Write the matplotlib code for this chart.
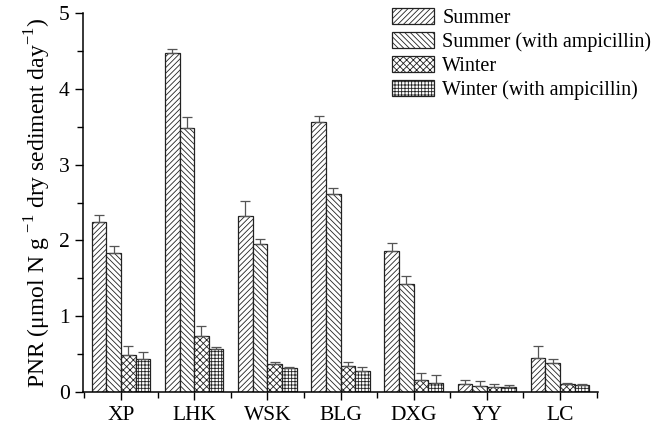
import numpy as np
import matplotlib
matplotlib.use("Agg")
from matplotlib import pyplot as plt
from matplotlib.ticker import MultipleLocator

plt.rcParams['font.family'] = ['Liberation Serif', 'DejaVu Serif']
plt.rcParams['hatch.linewidth'] = 0.6
plt.rcParams['mathtext.fontset'] = 'custom'
plt.rcParams['mathtext.rm'] = 'Liberation Serif'

sites = ["XP", "LHK", "WSK", "BLG", "DXG", "YY", "LC"]
series = ["Summer", "Summer (with ampicillin)", "Winter", "Winter (with ampicillin)"]

summer = [2.24, 4.48, 2.32, 3.56, 1.86, 0.10, 0.45]
summer_amp = [1.83, 3.48, 1.95, 2.61, 1.43, 0.08, 0.38]
winter = [0.49, 0.74, 0.37, 0.34, 0.15, 0.07, 0.11]
winter_amp = [0.43, 0.56, 0.31, 0.27, 0.12, 0.06, 0.09]

summer_err = [0.10, 0.05, 0.20, 0.08, 0.10, 0.05, 0.16]
summer_amp_err = [0.09, 0.15, 0.07, 0.08, 0.10, 0.06, 0.05]
winter_err = [0.12, 0.13, 0.03, 0.06, 0.10, 0.03, 0.01]
winter_amp_err = [0.09, 0.03, 0.02, 0.06, 0.10, 0.03, 0.01]

values = [summer, summer_amp, winter, winter_amp]
errors = [summer_err, summer_amp_err, winter_err, winter_amp_err]
hatches = ["//////", "\\\\\\\\\\\\", "xxxxx", "+++++"]

fig = plt.figure(figsize=(6.69, 4.25), dpi=100)
ax = fig.add_axes([0.124, 0.078, 0.77, 0.891])

x = np.arange(len(sites))
w = 0.2
for i in range(4):
    pos = x + (i - 1.5) * w
    ax.bar(pos, values[i], w, color="white", edgecolor="#222222", linewidth=0.9,
           hatch=hatches[i], label=series[i])
    ax.errorbar(pos, values[i], yerr=[np.zeros(len(sites)), errors[i]], fmt="none",
                ecolor="#555555", elinewidth=0.9, capsize=3.5, capthick=0.9)

ax.set_xlim(-0.52, 6.52)
ax.set_ylim(0, 5)
ax.set_xticks(x)
ax.set_xticklabels(sites)
ax.set_xticks([-0.5, 6.5] + list(x[:-1] + 0.5), minor=True)
ax.yaxis.set_major_locator(MultipleLocator(1))
ax.yaxis.set_minor_locator(MultipleLocator(0.5))
ax.tick_params(axis="both", which="major", labelsize=15.5, direction="out", length=6, width=1)
ax.tick_params(axis="x", which="major", pad=4)
ax.tick_params(axis="both", which="minor", direction="out", length=4, width=1)
ax.spines["top"].set_visible(False)
ax.spines["right"].set_visible(False)
for s in ["left", "bottom"]:
    ax.spines[s].set_linewidth(1.1)

ax.set_ylabel(r"PNR ($\mathrm{\mu}$mol N g $^{-1}$ dry sediment day$^{-1}$)", fontsize=17,
              labelpad=4)

fig.legend(loc="upper left", bbox_to_anchor=(392 / 669, 1 - 8 / 425), frameon=False,
           fontsize=14.5, handlelength=2.1, handleheight=0.85, labelspacing=0.2,
           handletextpad=0.4, borderpad=0, borderaxespad=0)

fig.savefig("out.png", dpi=100)
